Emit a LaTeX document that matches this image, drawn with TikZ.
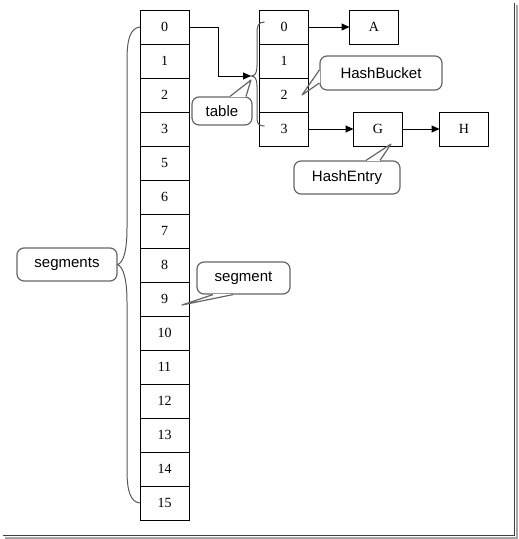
\documentclass[tikz,border=0pt]{standalone}
\usepackage{fontspec}
\setmainfont{Liberation Serif}
\setsansfont{Liberation Sans}
\usetikzlibrary{arrows.meta}

\begin{document}
\begin{tikzpicture}[x=1pt,y=-1pt,
    cell/.style={draw,line width=1pt,minimum width=49pt,minimum height=34pt,inner sep=0pt,outer sep=0pt,font=\fontsize{14}{16}\selectfont},
    note/.style={draw=black!60,line width=1.2pt,rounded corners=7pt,fill=white,inner sep=0pt,font=\sffamily\fontsize{15}{18}\selectfont},
    link/.style={line width=1pt,-{Triangle[length=8pt,width=7pt]}},
    brace/.style={draw=black!65,line width=1pt},
    tip/.style={draw=black!60,line width=1.2pt,line join=round}]
    \useasboundingbox (0,0) rectangle (519,539);

    % Frame shadow
    \draw[black!35,line width=2pt] (517,5) |- (5,538);
    \draw[black!75,line width=1.6pt] (514.5,3) |- (3,535.5);

    % Segments
    \foreach \lab [count=\i from 0] in {0,1,2,3,5,6,...,15}
        \node[cell] (s\lab) at (164.5,{27+34*\i}) {\lab};

    % Table
    \foreach \i in {0,...,3}
        \node[cell] (t\i) at (284,{27+34*\i}) {\i};

    % Entries
    \node[cell] (A) at (374,27) {A};
    \node[cell] (G) at (378,129) {G};
    \node[cell] (H) at (464,129) {H};

    % Links
    \coordinate (tabletip) at (251,76);
    \draw[link] (s0.east) -- ++(29,0) |- (tabletip);
    \draw[link] (t0.east) -- (A.west);
    \draw[link] (t3.east) -- (G.west);
    \draw[link] (G.east) -- (H.west);

    % Notes
    \node[note,minimum width=60pt,minimum height=28pt] (tablenote) at (222,111) {table};
    \node[note,minimum width=122pt,minimum height=34pt] (bucketnote) at (381,73) {HashBucket};
    \node[note,minimum width=106pt,minimum height=33pt] (entrynote) at (347,177.5) {HashEntry};
    \node[note,minimum width=93pt,minimum height=32pt] (segnote) at (243.5,278) {segment};
    \node[note,minimum width=100pt,minimum height=33pt] (segsnote) at (67,264.5) {segments};

    % Pointers
    \draw[white,line width=2pt] ([xshift=8pt]tablenote.north) -- ([xshift=24pt]tablenote.north);
    \draw[tip] ([xshift=8pt]tablenote.north) -- (251,80) -- ([xshift=24pt]tablenote.north);
    \draw[white,line width=2pt] ([yshift=3pt]bucketnote.west) -- ([yshift=-10pt]bucketnote.west);
    \draw[tip] ([yshift=3pt]bucketnote.west) -- (302,95) -- ([yshift=-10pt]bucketnote.west);
    \draw[white,line width=2pt] ([xshift=19pt]entrynote.north) -- ([xshift=33pt]entrynote.north);
    \draw[tip] ([xshift=19pt]entrynote.north) -- (391,144) -- ([xshift=33pt]entrynote.north);
    \draw[white,line width=2pt] ([xshift=-30.5pt]segnote.south) -- ([xshift=-10.5pt]segnote.south);
    \draw[tip] ([xshift=-30.5pt]segnote.south) -- (182,305) -- ([xshift=-10.5pt]segnote.south);

    % Braces
    \draw[brace] ([xshift=5pt,yshift=5pt]t0.west) .. controls (258,22) and (257,26) .. (257,34)
        -- (257,66) .. controls (257,73) and (255,76) .. (tabletip)
        .. controls (255,76) and (257,79) .. (257,86) -- (257,118)
        .. controls (257,124) and (259,126) .. ([xshift=5pt,yshift=3pt]t3.west);
    \draw[brace] (s0.west) .. controls (130,28) and (127,40) .. (127,60) -- (127,228)
        .. controls (127,252) and (123,263) .. (segsnote.east)
        .. controls (123,267) and (127,278) .. (127,302) -- (127,470)
        .. controls (127,490) and (130,502) .. (s15.west);
\end{tikzpicture}
\end{document}
